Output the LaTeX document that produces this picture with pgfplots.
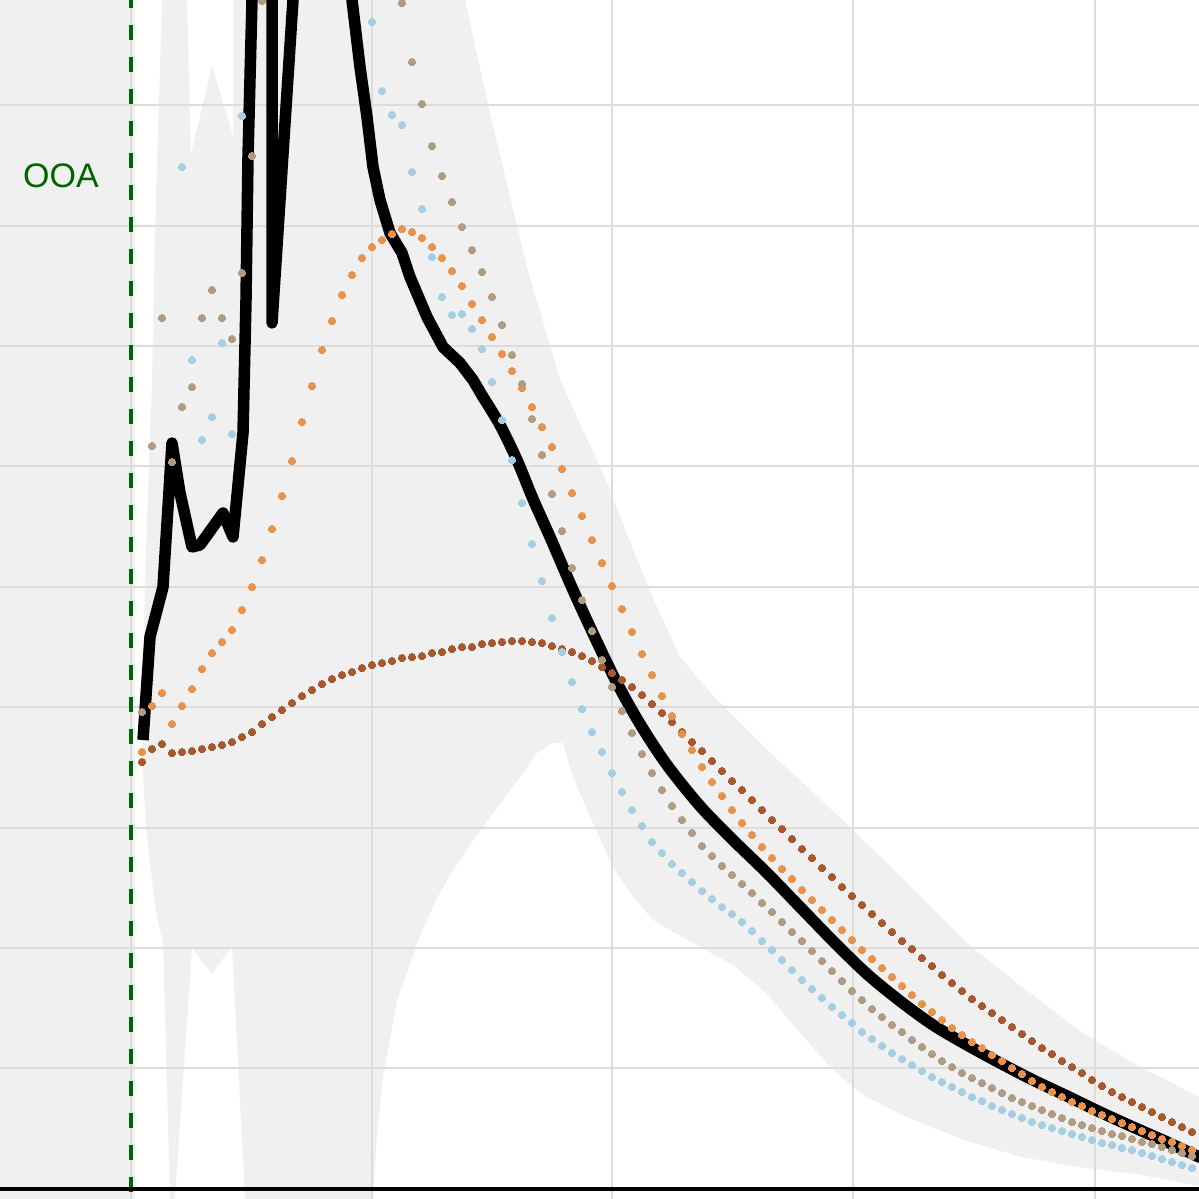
\documentclass[border=0pt]{standalone}
\usepackage{pgfplots}
\pgfplotsset{compat=1.18}
\usepackage{fontspec}
\setmainfont{Liberation Sans}

\definecolor{bandgray}{RGB}{240,240,240}
\definecolor{gridgray}{RGB}{220,220,220}
\definecolor{ooagreen}{RGB}{0,100,0}
\definecolor{sblue}{RGB}{166,206,227}
\definecolor{sorange}{RGB}{232,146,76}
\definecolor{sbrown}{RGB}{166,88,46}
\definecolor{stan}{RGB}{176,156,130}

\pgfplotsset{
  dot/.style={only marks, mark=*, mark size=3.8pt, color=#1, mark options={solid, draw=#1, line width=0pt, fill=#1}},
  band/.style={fill=bandgray, draw=none, on layer=axis background},
}

\begin{document}
\begin{tikzpicture}
\begin{axis}[
    name=ax,
    set layers,
    width=1199pt, height=1199pt,
    scale only axis,
    xmin=0, xmax=1199, ymin=0, ymax=1199,
    y dir=reverse,
    axis line style={draw=none},
    xtick={131,372,612,853,1095},
    ytick={105,226,346,466,587,707,828,948,1068},
    xticklabels={}, yticklabels={},
    major tick length=0pt,
    grid=major,
    major grid style={gridgray, line width=1.6pt},
  ]

% out-of-area column
\addplot[band] coordinates {(0,0) (135,0) (135,1199) (0,1199)};
% envelope band
\addplot[band] coordinates {
  (162,0) (187,0) (191,155) (212,65) (233,137) (233,0) (465,0)
  (487,100) (517,226) (527,268) (560,379) (577,417) (607,482) (633,550)
  (657,607) (680,657) (717,700) (767,750) (800,780) (853,830) (917,893)
  (967,943) (1017,983) (1083,1033) (1133,1063) (1199,1097)
  (1199,1186) (1136,1174) (1078,1167) (1021,1157) (964,1140) (906,1117)
  (860,1093) (830,1067) (800,1033) (765,992) (733,965) (687,940) (653,920)
  (633,897) (613,867) (587,810) (573,777) (563,743) (553,743) (537,753)
  (520,777) (503,800) (470,845) (450,875) (436,900) (420,936) (397,1001)
  (383,1077) (377,1135) (373,1199) (245,1199) (232,946) (212,974) (192,948)
  (175,1199) (170,1199) (163,944) (155,906) (146,829) (142,753) (145,574)
  (152,383) (155,230) (162,0)};

% OOA boundary
\addplot[ooagreen, line width=4.5pt, dash pattern=on 15pt off 17pt, dash phase=7pt]
  coordinates {(131,0) (131,1199)};
% bottom axis line
\addplot[black, line width=4pt] coordinates {(0,1189) (1199,1189)};

% main (black) series: jagged early part
\addplot[black, line width=11.5pt, line join=round] coordinates {
  (143,740) (150,637) (163,587) (172,443) (180,493) (192,547) (200,545)
  (223,513) (233,537) (243,433) (246,300) (248,157) (252,0) (255,-60)
  (270,-60) (272,0) (272,323) (293,0) (300,-100) (345,-100) (352,0)
  (360,67) (367,117) (373,167) (380,200) (390,233) (402,253) (410,277)
  (427,317) (443,347) (460,363) (473,380) (483,397)};
% main (black) series: smooth decay
\addplot[black, line width=11.5pt, line join=round, line cap=round, smooth, tension=0.5] coordinates {
  (483,397) (500,425) (517,460) (533,499) (550,537) (573,590) (597,642)
  (617,683) (640,724) (667,765) (700,806) (733,840) (767,873) (800,907)
  (833,941) (867,974) (900,1001) (933,1025) (967,1045) (1000,1063)
  (1033,1080) (1067,1096) (1100,1112) (1133,1127) (1167,1142) (1199,1157)};

% brown series
\addplot[dot=sbrown] coordinates {
  (142,762) (152,749) (162,744) (172,753) (182,752) (192,751) (202,749)
  (212,747) (222,745) (232,742) (242,737) (252,732) (262,724) (272,717)
  (282,710) (292,703) (302,696) (312,690) (322,684) (332,679) (342,675)
  (352,672) (362,668) (372,665) (382,663) (392,661) (402,658) (412,657)
  (422,656) (432,653) (442,652) (452,649) (462,647) (472,647) (482,644)
  (492,643) (502,642) (512,641) (522,641) (532,642) (542,643) (552,646)
  (562,649) (572,652) (582,656) (592,661) (602,667) (612,673) (622,680)
  (632,687) (642,695) (652,704) (662,713) (672,722) (682,732) (692,742)
  (702,751) (712,761) (722,771) (732,781) (742,790) (752,800) (762,810)
  (772,820) (782,829) (792,839) (802,849) (812,858) (822,868) (832,877)
  (842,887) (852,896) (862,905) (872,914) (882,923) (892,932) (902,941)
  (912,949) (922,958) (932,966) (942,975) (952,983) (962,991) (972,999)
  (982,1006) (992,1013) (1002,1020) (1012,1027) (1022,1034) (1032,1041)
  (1042,1048) (1052,1054) (1062,1061) (1072,1067) (1082,1073) (1092,1080)
  (1102,1086) (1112,1092) (1122,1097) (1132,1102) (1142,1107) (1152,1112)
  (1162,1117) (1172,1122) (1182,1127) (1192,1132)};

% orange series
\addplot[dot=sorange] coordinates {
  (142,752) (152,706) (162,693) (172,724) (182,706) (192,689) (202,669)
  (212,653) (222,642) (232,630) (242,610) (252,587) (262,560) (272,529)
  (282,496) (292,461) (302,422) (312,386) (322,350) (332,321) (342,295)
  (352,275) (362,258) (372,247) (382,240) (392,234) (402,229) (412,232)
  (422,238) (432,247) (442,258) (452,271) (462,286) (472,304) (482,320)
  (492,337) (502,354) (512,371) (522,388) (532,407) (542,427) (552,447)
  (562,469) (572,493) (582,516) (592,540) (602,563) (612,586) (622,609)
  (632,632) (642,654) (652,675) (662,696) (672,716) (682,734) (692,750)
  (702,767) (712,782) (722,796) (732,810) (742,823) (752,835) (762,847)
  (772,858) (782,869) (792,879) (802,890) (812,900) (822,910) (832,920)
  (842,930) (852,940) (862,950) (872,959) (882,968) (892,977) (902,986)
  (912,995) (922,1004) (932,1012) (942,1020) (952,1028) (962,1035)
  (972,1042) (982,1048) (992,1055) (1002,1061) (1012,1068) (1022,1074)
  (1032,1081) (1042,1087) (1052,1092) (1062,1097) (1072,1102) (1082,1106)
  (1092,1111) (1102,1115) (1112,1119) (1122,1123) (1132,1127) (1142,1131)
  (1152,1135) (1162,1139) (1172,1142) (1182,1146) (1192,1150)};

% tan series
\addplot[dot=stan] coordinates {
  (142,712) (152,446) (162,318) (172,462) (182,407) (192,387) (202,318)
  (212,290) (222,318) (232,339) (242,273) (252,156) (262,1)
  (402,3) (412,62) (422,104) (432,146) (442,176) (452,202) (462,227)
  (472,250) (482,272) (492,297) (502,325) (512,355) (522,384) (532,419)
  (542,455) (552,494) (562,531) (572,568) (582,600) (592,631) (602,660)
  (612,687) (622,711) (632,733) (642,754) (652,773) (662,790) (672,806)
  (682,820) (692,833) (702,846) (712,856) (722,866) (732,875) (742,884)
  (752,893) (762,903) (772,912) (782,922) (792,932) (802,941) (812,951)
  (822,961) (832,971) (842,981) (852,991) (862,1000) (872,1009) (882,1017)
  (892,1025) (902,1032) (912,1040) (922,1047) (932,1054) (942,1061)
  (952,1067) (962,1073) (972,1078) (982,1083) (992,1088) (1002,1093)
  (1012,1098) (1022,1102) (1032,1106) (1042,1110) (1052,1114) (1062,1118)
  (1072,1122) (1082,1125) (1092,1128) (1102,1131) (1112,1134) (1122,1136)
  (1132,1139) (1142,1142) (1152,1144) (1162,1147) (1172,1150) (1182,1153)
  (1192,1156)};

% light blue series
\addplot[dot=sblue] coordinates {
  (182,167) (192,360) (202,440) (212,417) (222,343) (232,434) (242,116)
  (372,22) (382,91) (392,115) (402,125) (412,172) (422,209) (432,257)
  (442,297) (452,315) (462,314) (472,329) (482,349) (492,382) (502,420)
  (512,460) (522,503) (532,544) (542,581) (552,618) (562,652) (572,682)
  (582,709) (592,732) (602,752) (612,773) (622,792) (632,810) (642,826)
  (652,842) (662,853) (672,864) (682,873) (692,882) (702,891) (712,899)
  (722,907) (732,914) (742,922) (752,931) (762,941) (772,950) (782,960)
  (792,970) (802,980) (812,989) (822,998) (832,1007) (842,1015) (852,1023)
  (862,1032) (872,1039) (882,1046) (892,1053) (902,1059) (912,1065)
  (922,1071) (932,1077) (942,1082) (952,1087) (962,1092) (972,1097)
  (982,1101) (992,1106) (1002,1110) (1012,1114) (1022,1118) (1032,1122)
  (1042,1125) (1052,1128) (1062,1131) (1072,1134) (1082,1137) (1092,1140)
  (1102,1143) (1112,1145) (1122,1148) (1132,1150) (1142,1153) (1152,1156)
  (1162,1159) (1172,1162) (1182,1165) (1192,1168)};

\node[text=ooagreen, font=\fontsize{34}{40}\selectfont] at (axis cs:61,176) {OOA};
\end{axis}
\pgfresetboundingbox
\path[use as bounding box] (ax.south west) rectangle (ax.north east);
\end{tikzpicture}
\end{document}
